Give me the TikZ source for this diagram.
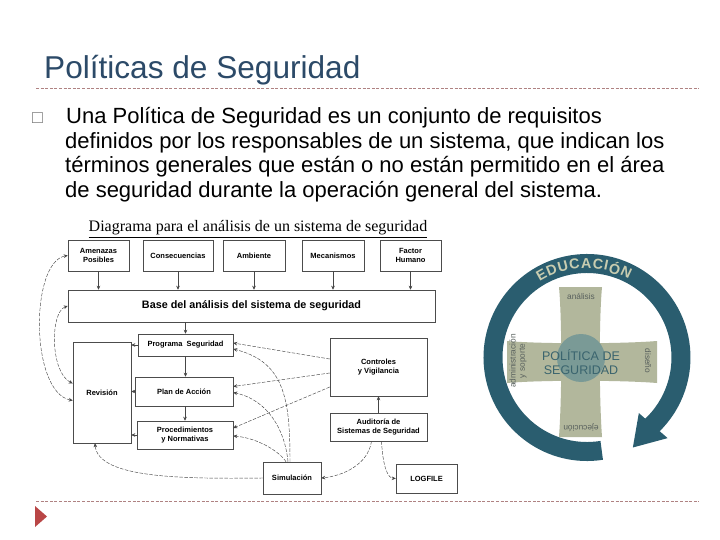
\documentclass[tikz,border=0pt]{standalone}
\usepackage{fontspec}
\setmainfont{Liberation Sans}
\newfontfamily\serifdg{Liberation Serif}
\usetikzlibrary{arrows.meta,calc}
\definecolor{titleblue}{RGB}{44,74,104}
\definecolor{rulec}{RGB}{175,130,130}
\definecolor{tric}{RGB}{185,70,70}
\definecolor{ringc}{RGB}{42,93,111}
\definecolor{educ}{RGB}{200,204,176}
\definecolor{crossc}{RGB}{178,183,156}
\definecolor{centc}{RGB}{122,154,150}
\definecolor{polc}{RGB}{58,100,110}
\definecolor{lblc}{RGB}{88,96,93}
\definecolor{linec}{RGB}{70,70,70}
\begin{document}
\begin{tikzpicture}[x=1pt,y=-1pt,
  dbox/.style={draw=black!70,line width=0.5pt,fill=white,inner sep=1pt,align=center,font={\fontsize{7.5}{9}\selectfont\bfseries}},
  arr/.style={draw=linec,line width=0.45pt,-{Stealth[length=4pt,width=3.6pt]}},
  darr/.style={arr,dash pattern=on 3.5pt off 1.5pt},
  barr/.style={draw=linec,line width=0.45pt,dash pattern=on 3.5pt off 1.5pt,{Stealth[length=4pt,width=3.6pt]}-{Stealth[length=4pt,width=3.6pt]}},
  rulel/.style={draw=rulec,line width=0.7pt,dash pattern=on 3pt off 1.6pt},
  bodyl/.style={anchor=base west,inner sep=0pt,font={\fontsize{22}{24}\selectfont}},
  crosslbl/.style={text=lblc,inner sep=0pt,font={\fontsize{8.3}{9.3}\selectfont},align=center},
  eduL/.style={text=educ,inner sep=0pt,font={\fontsize{14.3}{14.3}\selectfont\bfseries}}
]
\useasboundingbox (0,0) rectangle (720,540);
\fill[white] (0,0) rectangle (720,540);

% header
\node[anchor=base west,inner sep=0pt,text=titleblue,font={\fontsize{31.6}{34}\selectfont}] (title) at (44,79) {Políticas de Seguridad};
\coordinate (r1a) at (36,88);
\coordinate (r1b) at (699,88);
\draw[rulel] (r1a) -- (r1b);

\node[anchor=base west,inner sep=0pt,text=black!55,font={\fontsize{18}{18}\selectfont}] (bullet) at (32,124) {□};
\node[bodyl] (l1) at (66,124) {Una Política de Seguridad es un conjunto de requisitos};
\node[bodyl] (l2) at (65,149) {definidos por los responsables de un sistema, que indican los};
\node[bodyl] (l3) at (65,173) {términos generales que están o no están permitido en el área};
\node[bodyl] (l4) at (65,198) {de seguridad durante la operación general del sistema.};

% footer
\coordinate (r2a) at (36,501);
\coordinate (r2b) at (699,501);
\draw[rulel] (r2a) -- (r2b);
\fill[tric] (35,506) -- (47,516.5) -- (35,527) -- cycle;

% diagram title
\node[inner sep=0pt,anchor=base,font={\serifdg\fontsize{16}{18}\selectfont}] (dtitle) at (258,232) {\underline{Diagrama para el análisis de un sistema de seguridad}};

% boxes
\node[dbox,minimum width=61pt,minimum height=31pt] (amen) at (98.5,255.5) {Amenazas\\Posibles};
\node[dbox,minimum width=70pt,minimum height=31pt] (cons) at (178,255.5) {Consecuencias};
\node[dbox,minimum width=62pt,minimum height=31pt] (amb) at (254,255.5) {Ambiente};
\node[dbox,minimum width=62pt,minimum height=31pt] (mec) at (333,255.5) {Mecanismos};
\node[dbox,minimum width=61pt,minimum height=31pt] (fac) at (410.5,255.5) {Factor\\Humano};
\node[dbox,minimum width=367pt,minimum height=32pt,font={\fontsize{10.8}{12}\selectfont\bfseries}] (base) at (251.5,306) {Base del análisis del sistema de seguridad};
\node[dbox,minimum width=95pt,minimum height=22pt] (prog) at (185.5,345) {Programa~~Seguridad};
\node[dbox,minimum width=58pt,minimum height=101pt] (rev) at (102,392.5) {Revisión};
\node[dbox,minimum width=98pt,minimum height=29pt] (plan) at (184,391.5) {Plan de Acción};
\node[dbox,minimum width=96pt,minimum height=28pt] (proc) at (185,435) {Procedimientos\\y Normativas};
\node[dbox,minimum width=97pt,minimum height=58pt] (ctrl) at (378.5,367) {Controles\\y Vigilancia};
\node[dbox,minimum width=97pt,minimum height=28pt] (aud) at (378.5,427) {Auditoría de\\Sistemas de Seguridad};
\node[dbox,minimum width=58pt,minimum height=32pt] (sim) at (292,478) {Simulación};
\node[dbox,minimum width=61pt,minimum height=29pt] (log) at (426.5,478.5) {LOGFILE};

% arrows into base
\foreach \b in {amen,cons,amb,mec,fac}
  \draw[arr] (\b.south) -- (\b.south |- base.north);
\draw[arr] (prog.north |- base.south) -- (prog.north);
\draw[arr] (prog.south) -- (prog.south |- plan.north);
\draw[arr] (plan.south -| proc.north) -- (proc.north);
\draw[arr] (prog.west) -- (prog.west -| rev.east);
\draw[arr] (plan.west) -- (plan.west -| rev.east);
\draw[arr] (proc.west) -- (proc.west -| rev.east);
\draw[arr] (aud.north) -- (ctrl.south);

% controles
\draw[darr] ($(ctrl.west)+(0,-8)$) -- ($(prog.east)+(0,-2)$);
\draw[darr] ($(ctrl.west)+(0,6)$) -- ($(plan.east)+(0,-5)$);
\draw[darr] ($(ctrl.west)+(0,20)$) -- ($(proc.east)+(0,-7)$);

% simulacion
\draw[darr] ($(sim.north)+(-2,0)$) .. controls (290,400) and (285,362) .. ($(prog.east)+(0,4)$);
\draw[darr] ($(sim.north)+(-4,0)$) .. controls (285,430) and (268,400) .. ($(plan.east)+(0,1)$);
\draw[darr] ($(sim.north)+(-6,0)$) .. controls (280,452) and (258,438) .. ($(proc.east)+(0,1)$);
\draw[darr] (sim.west) .. controls (180,479) and (98,478) .. ($(rev.south)+(-7,0)$);

% auditoria
\draw[darr] ($(aud.south)+(-7,0)$) .. controls (368,465) and (342,476) .. (sim.east);
\draw[darr] ($(aud.south)+(3,0)$) .. controls (383,468) and (388,478) .. (log.west);

% revision feedback
\draw[barr] ($(rev.west)+(0,8)$) .. controls (30,392) and (30,262) .. (amen.west);
\draw[barr] ($(rev.west)+(0,-9)$) .. controls (50,372) and (50,312) .. (base.west);

% right graphic: ring with arrow
\coordinate (C) at (587,357.5);
\draw[ringc,line width=19pt] ([shift={(81:94)}]C) arc[start angle=81,end angle=406.5,radius=94];
\fill[ringc] ($(C)+(47:76)$) -- ($(C)+(45:114)$) -- ($(C)+(63:101)$) -- cycle;
\foreach \l/\a [count=\i] in {E/119.1,D/112.1,U/104.9,C/97.7,A/90.5,C/83.3,I/78.1,Ó/72.6,N/65.2}
  \node[eduL,rotate=\a-90] (edu\i) at ({587+94*cos(\a)},{357.5-94*sin(\a)}) {\l};

% cross
\fill[crossc] (559,287) -- (602,287) .. controls (599,320) and (599,395) .. (602,437) -- (559,437) .. controls (562,395) and (562,320) .. (559,287) -- cycle;
\fill[crossc] (507,341) -- (507,383) .. controls (540,380) and (620,380) .. (657,383) -- (657,341) .. controls (620,344) and (540,344) .. (507,341) -- cycle;
\fill[centc] (581,358) circle[radius=24];
\node[text=polc,inner sep=0pt,align=center,font={\fontsize{12.5}{14}\selectfont}] (pol) at (581,362) {POLÍTICA DE\\SEGURIDAD};
\node[crosslbl] (an) at (581,296) {análisis};
\node[crosslbl,rotate=-90] (dis) at (648,361) {diseño};
\node[crosslbl,rotate=180] (eje) at (581,428) {ejecución};
\node[crosslbl,rotate=90] (adm) at (518,361) {administración\\y soporte};
\end{tikzpicture}
\end{document}
